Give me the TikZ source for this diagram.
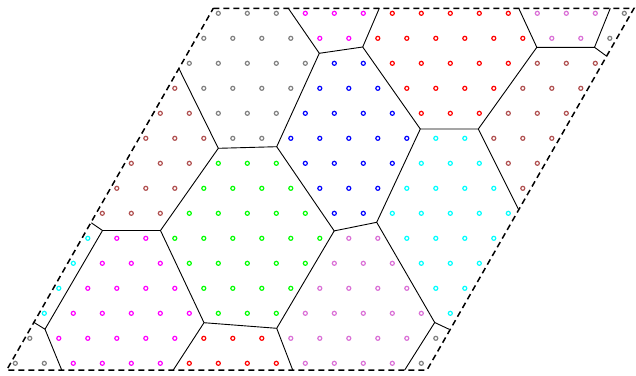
\documentclass[tikz,border=0pt]{standalone}
\begin{document}
\definecolor{ptG}{RGB}{128,128,128}
\definecolor{ptM}{RGB}{255,0,255}
\definecolor{ptR}{RGB}{255,0,0}
\definecolor{ptO}{RGB}{218,112,214}
\definecolor{ptW}{RGB}{176,80,80}
\definecolor{ptB}{RGB}{0,0,255}
\definecolor{ptL}{RGB}{0,255,0}
\definecolor{ptC}{RGB}{0,255,255}
\begin{tikzpicture}[x=1pt,y=-1pt,
  celledge/.style={black,line width=0.9pt},
  frame/.style={black,line width=1.5pt,dash pattern=on 6pt off 4pt},
  latpt/.style={line width=1.2pt}]
\useasboundingbox (0,0) rectangle (636,375);
% frame corners
\coordinate (F1) at (213.3,8.3);
\coordinate (F2) at (634,8.3);
\coordinate (F3) at (427,370);
\coordinate (F4) at (6.7,370);
% lattice points
\foreach \row [count=\j from 0] in {
 {G,G,G,M,M,M,R,R,R,R,R,O,O,O,G},
 {G,G,G,G,M,M,R,R,R,R,R,R,O,O,G},
 {G,G,G,G,G,B,B,R,R,R,R,R,W,W,W},
 {W,G,G,G,G,B,B,B,R,R,R,R,W,W,W},
 {W,W,G,G,G,B,B,B,B,R,R,R,W,W,W},
 {W,W,W,G,G,B,B,B,B,B,C,C,W,W,W},
 {W,W,W,L,L,L,B,B,B,B,C,C,C,W,W},
 {W,W,W,L,L,L,L,B,B,B,C,C,C,C,W},
 {W,W,W,L,L,L,L,L,B,B,C,C,C,C,C},
 {C,M,M,L,L,L,L,L,L,O,O,C,C,C,C},
 {C,M,M,M,L,L,L,L,L,O,O,O,C,C,C},
 {C,M,M,M,M,L,L,L,L,O,O,O,O,C,C},
 {C,M,M,M,M,M,L,L,L,O,O,O,O,O,C},
 {G,M,M,M,M,M,R,R,R,O,O,O,O,O,G},
 {G,G,M,M,M,M,R,R,R,R,O,O,O,O,G}}{
  \foreach \c [count=\i from 0] in \row {
    \draw[latpt,draw=pt\c] ({218.3-14.5*\j+29*\i},{13.3+25*\j}) circle (2);
  }
}
% Voronoi vertices
\coordinate (t1) at (288.3,8.3);
\coordinate (t2) at (379.3,8.3);
\coordinate (t3) at (518.7,8.3);
\coordinate (t4) at (610.3,8.3);
\coordinate (v1) at (319.3,53.3);
\coordinate (v2) at (362.7,47);
\coordinate (v3) at (420.3,129);
\coordinate (v4) at (478.3,129);
\coordinate (v5) at (536.8,47.3);
\coordinate (v6) at (594.5,47.3);
\coordinate (b1) at (606.8,56.3);
\coordinate (v7) at (276.7,146.7);
\coordinate (v8) at (218.3,148.3);
\coordinate (l1) at (179.3,69.3);
\coordinate (v9) at (334.2,230.9);
\coordinate (v10) at (376.7,222.3);
\coordinate (r1) at (518.3,209);
\coordinate (v11) at (434.7,322.5);
\coordinate (r2) at (449.2,329.3);
\coordinate (bo1) at (404.7,370);
\coordinate (v12) at (160.5,230.5);
\coordinate (v13) at (102.5,230.5);
\coordinate (l2) at (91.3,222.8);
\coordinate (v14) at (45,329.2);
\coordinate (l3) at (33.3,322);
\coordinate (bo2) at (61.7,370);
\coordinate (v15) at (204,322.7);
\coordinate (v16) at (276.7,328.3);
\coordinate (bo3) at (173.3,370);
\coordinate (bo4) at (292.7,370);
% Voronoi edges
\draw[celledge] (t1) -- (v1) -- (v2) -- (t2);
\draw[celledge] (v2) -- (v3) -- (v4) -- (v5) -- (t3);
\draw[celledge] (v5) -- (v6) -- (t4);
\draw[celledge] (v6) -- (b1);
\draw[celledge] (v1) -- (v7) -- (v8) -- (l1);
\draw[celledge] (v7) -- (v9) -- (v10) -- (v3);
\draw[celledge] (v4) -- (r1);
\draw[celledge] (v10) -- (v11) -- (r2);
\draw[celledge] (v11) -- (bo1);
\draw[celledge] (v8) -- (v12) -- (v13) -- (l2);
\draw[celledge] (v13) -- (v14) -- (l3);
\draw[celledge] (v14) -- (bo2);
\draw[celledge] (v12) -- (v15) -- (v16) -- (v9);
\draw[celledge] (v15) -- (bo3);
\draw[celledge] (v16) -- (bo4);
% frame
\draw[frame] (F1) -- (F2) -- (F3) -- (F4) -- cycle;
\end{tikzpicture}
\end{document}
